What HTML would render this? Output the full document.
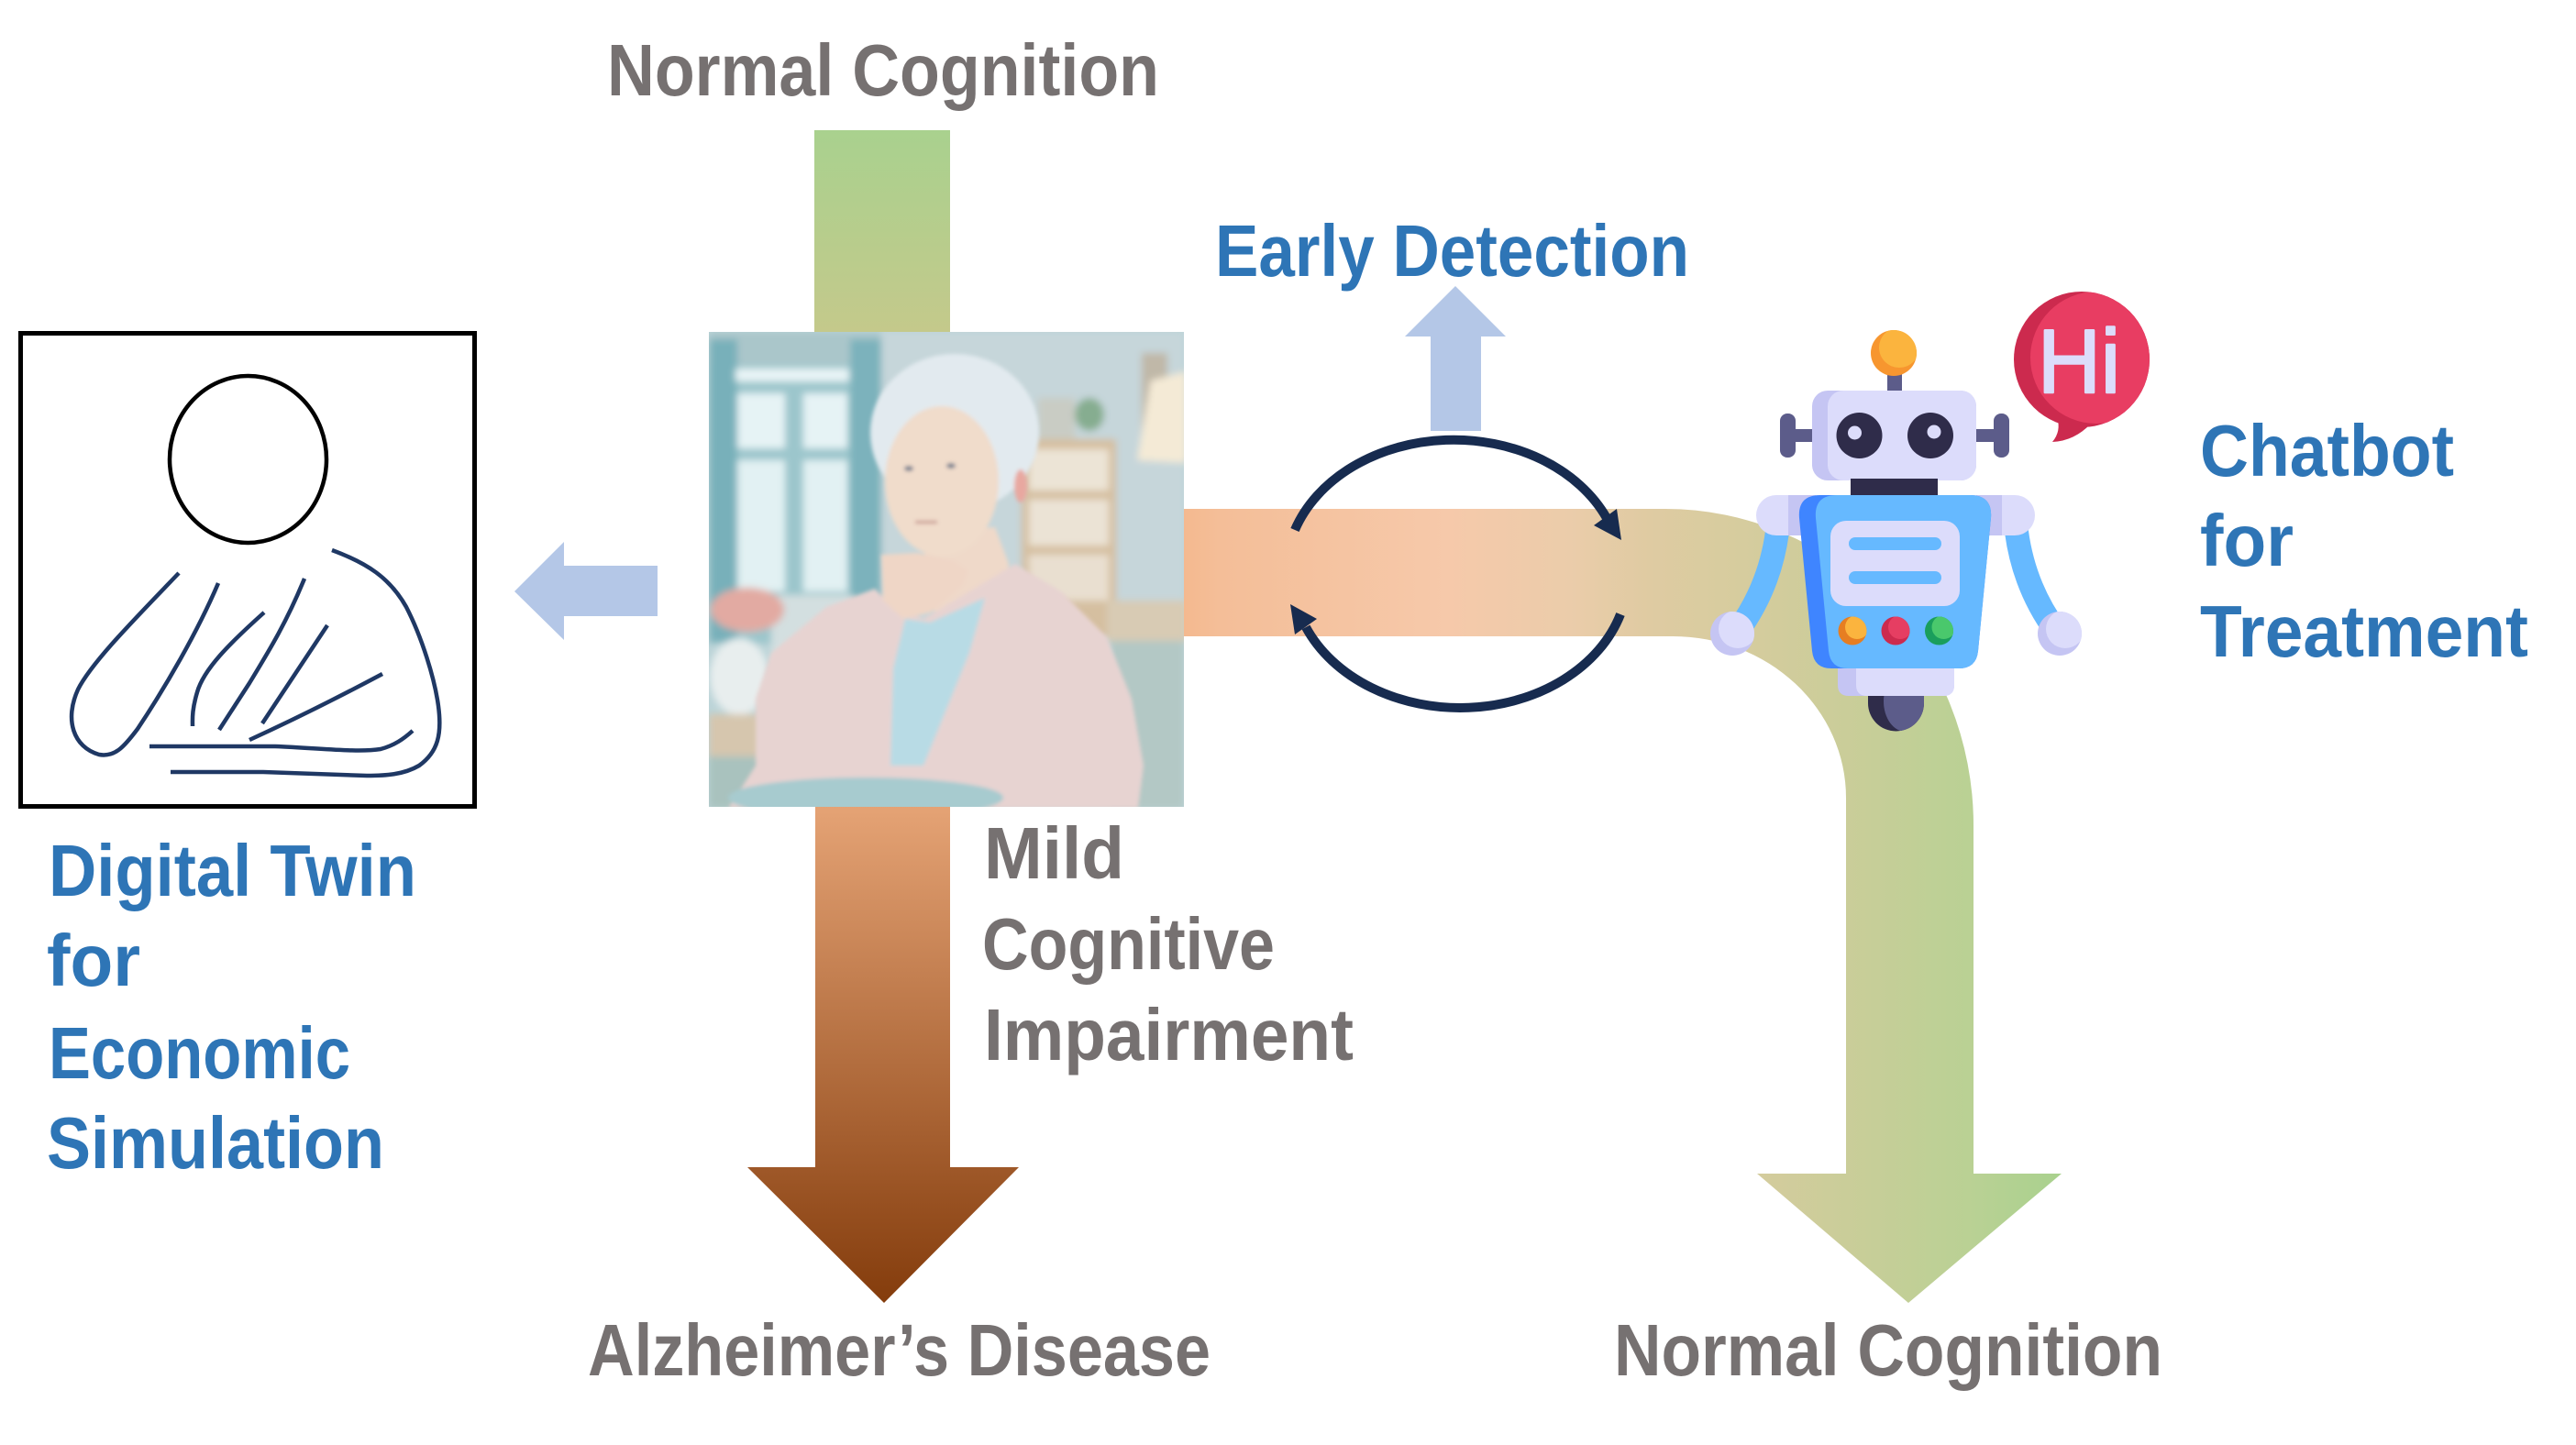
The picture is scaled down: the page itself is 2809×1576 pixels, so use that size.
<!DOCTYPE html>
<html>
<head>
<meta charset="utf-8">
<style>
html,body{margin:0;padding:0;background:#fff;}
svg{display:block;}
text{font-family:"Liberation Sans","DejaVu Sans",sans-serif;font-weight:bold;}
</style>
</head>
<body>
<svg width="2809" height="1576" viewBox="0 0 2809 1576" xmlns="http://www.w3.org/2000/svg">
<defs>
  <linearGradient id="gTop" x1="0" y1="142" x2="0" y2="362" gradientUnits="userSpaceOnUse">
    <stop offset="0" stop-color="#a9d18e"/>
    <stop offset="1" stop-color="#c4c98b"/>
  </linearGradient>
  <linearGradient id="gBrown" x1="0" y1="879" x2="0" y2="1421" gradientUnits="userSpaceOnUse">
    <stop offset="0" stop-color="#e5a375"/>
    <stop offset="1" stop-color="#843c0c"/>
  </linearGradient>
  <linearGradient id="gBand" x1="1291" y1="0" x2="2248" y2="0" gradientUnits="userSpaceOnUse">
    <stop offset="0" stop-color="#f4b98f"/>
    <stop offset="0.04" stop-color="#f4be98"/>
    <stop offset="0.30" stop-color="#f6c9aa"/>
    <stop offset="0.44" stop-color="#ebccaa"/>
    <stop offset="0.53" stop-color="#dfcba2"/>
    <stop offset="0.636" stop-color="#d6cc9e"/>
    <stop offset="0.754" stop-color="#cacd99"/>
    <stop offset="0.90" stop-color="#b9d194"/>
    <stop offset="1" stop-color="#a9d18e"/>
  </linearGradient>
  <clipPath id="photoClip"><rect x="773" y="362" width="518" height="518"/></clipPath>
  <filter id="b4" x="-10%" y="-10%" width="120%" height="120%"><feGaussianBlur stdDeviation="4"/></filter>
  <filter id="b2" x="-10%" y="-10%" width="120%" height="120%"><feGaussianBlur stdDeviation="2"/></filter>
  <clipPath id="cAnt"><circle cx="2065" cy="385" r="25"/></clipPath>
  <clipPath id="cHL"><circle cx="1889" cy="691" r="24"/></clipPath>
  <clipPath id="cHR"><circle cx="2246" cy="691" r="24"/></clipPath>
  <clipPath id="cD1"><circle cx="2020" cy="688" r="15.5"/></clipPath>
  <clipPath id="cD2"><circle cx="2067" cy="688" r="15.5"/></clipPath>
  <clipPath id="cD3"><circle cx="2114.5" cy="688" r="15.5"/></clipPath>
  <clipPath id="cBub"><circle cx="2270" cy="392" r="74"/></clipPath>
  <clipPath id="cWheel"><path d="M2037,759 L2098,759 L2098,767 A30.5,30.5 0 0 1 2037,767 Z"/></clipPath>
</defs>

<rect x="0" y="0" width="2809" height="1576" fill="#ffffff"/>

<!-- Top text -->
<text x="662" y="104" font-size="80" fill="#767171" textLength="602" lengthAdjust="spacingAndGlyphs">Normal Cognition</text>

<!-- Green top shaft -->
<rect x="888" y="142" width="148" height="220" fill="url(#gTop)"/>

<!-- Brown arrow -->
<path d="M889,879 L1036,879 L1036,1273 L1111,1273 L964,1421 L815,1273 L889,1273 Z" fill="url(#gBrown)"/>

<!-- Band curving into green arrow -->
<path d="M1291,555 L1816,555 A336,345 0 0 1 2152,900 L2152,1280 L2248,1280 L2081,1421 L1916,1280 L2013,1280 L2013,870 A189,176 0 0 0 1824,694 L1291,694 Z" fill="url(#gBand)"/>

<!-- Digital twin box -->
<rect x="22.5" y="363.5" width="495" height="516" fill="#ffffff" stroke="#000000" stroke-width="5"/>
<ellipse cx="270.5" cy="501" rx="85.5" ry="91" fill="none" stroke="#000000" stroke-width="4.5"/>
<g fill="none" stroke="#1f3864" stroke-width="4.5" stroke-linecap="butt" stroke-linejoin="round">
  <path d="M195,625 C150,672 100,722 85,752 C70,785 80,815 108,823 C125,826 135,815 150,795 C180,750 215,690 238,636"/>
  <path d="M288,668 C250,702 222,730 215,755 C209,775 210,785 210,792"/>
  <path d="M332,631 C312,680 292,712 272,745 L239,796"/>
  <path d="M357,682 L286,789"/>
  <path d="M417,735 C370,760 320,785 272,807"/>
  <path d="M163,814 L300,814 C350,816 390,821 415,817 C430,813 440,806 450,797"/>
  <path d="M362,600 C400,614 425,630 443,662 C460,695 474,740 478,770 C482,800 478,820 457,835 C440,845 420,846 400,846 L287,842 L186,842"/>
</g>

<!-- Left arrow -->
<polygon points="561,645 615,591 615,617 717,617 717,672 615,672 615,698" fill="#b4c7e7"/>

<!-- Photo approximation -->
<g clip-path="url(#photoClip)">
  <rect x="773" y="362" width="518" height="518" fill="#bcd4d8"/>
  <g filter="url(#b4)">
    <rect x="773" y="362" width="200" height="340" fill="#9cc6cc"/>
    <rect x="773" y="362" width="518" height="36" fill="#aac6ca"/>
    <rect x="774" y="370" width="30" height="330" fill="#78b0ba"/>
    <rect x="927" y="370" width="34" height="330" fill="#7cb2bc"/>
    <rect x="802" y="402" width="124" height="14" fill="#e8f4f6"/>
    <rect x="804" y="429" width="52" height="60" fill="#e6f3f5"/>
    <rect x="876" y="429" width="48" height="60" fill="#e6f3f5"/>
    <rect x="804" y="502" width="52" height="143" fill="#e2f1f3"/>
    <rect x="876" y="502" width="48" height="143" fill="#e2f1f3"/>
    <rect x="961" y="362" width="330" height="340" fill="#c6d6da"/>
    <rect x="1114" y="479" width="103" height="216" fill="#d5bfa0"/>
    <rect x="1122" y="490" width="87" height="45" fill="#ece4d6"/>
    <rect x="1122" y="545" width="87" height="50" fill="#ebe3d5"/>
    <rect x="1122" y="605" width="87" height="50" fill="#e9dfd0"/>
    <rect x="1132" y="434" width="40" height="45" fill="#c9ccc4"/>
    <ellipse cx="1188" cy="452" rx="16" ry="18" fill="#86ad90"/>
    <rect x="1245" y="385" width="28" height="100" fill="#c0b8a8"/>
    <path d="M1255,415 L1294,405 L1294,505 L1240,502 Z" fill="#f4ead6"/>
    <rect x="1207" y="655" width="87" height="45" fill="#d8cbb4"/>
    <rect x="841" y="649" width="90" height="80" fill="#d3dfe0"/>
    <ellipse cx="815" cy="665" rx="40" ry="24" fill="#e2aaa2"/>
    <ellipse cx="806" cy="738" rx="32" ry="42" fill="#e8eeee"/>
    <rect x="773" y="779" width="60" height="50" fill="#d6c6ae"/>
    <rect x="773" y="825" width="70" height="57" fill="#a9c2be"/>
    <rect x="1211" y="699" width="80" height="183" fill="#b3c8c5"/>
  </g>
  <g filter="url(#b2)">
    <ellipse cx="1041" cy="472" rx="92" ry="86" fill="#e2eaef"/>
    <path d="M1010,580 L1085,575 L1100,615 L1095,660 L1035,680 L1005,655 Z" fill="#efd9c9"/>
    <polygon points="824,762 841,712 901,662 954,642 974,662 1007,675 1074,635 1107,615 1157,645 1207,695 1234,762 1247,835 1241,882 794,882 824,835" fill="#e7d3d1"/>
    <polygon points="987,675 1014,679 1074,652 1057,712 1007,835 971,835 974,729" fill="#b8dbe5"/>
    <ellipse cx="1027" cy="525" rx="62" ry="82" fill="#f0dccb"/>
    <ellipse cx="1113" cy="530" rx="7" ry="18" fill="#e8a8a0"/>
    <polygon points="961,605 1000,603 1040,612 1055,622 1050,638 1015,668 985,675 963,655" fill="#efd6c6"/>
    <ellipse cx="944" cy="870" rx="150" ry="22" fill="#a7cbcf"/>
    <ellipse cx="991" cy="511" rx="5" ry="3" fill="#7a8090"/>
    <ellipse cx="1037" cy="508" rx="5" ry="3" fill="#7a8090"/>
    <rect x="998" y="568" width="24" height="3" fill="#c89890"/>
  </g>
</g>

<!-- Up arrow -->
<polygon points="1587,312 1642,367 1615,367 1615,470 1560,470 1560,367 1532,367" fill="#b4c7e7"/>

<!-- Circular arrows -->
<path d="M1412,578 A183,145 0 0 1 1752,565" fill="none" stroke="#172b4f" stroke-width="10"/>
<polygon points="1738,573 1768,589 1763,555" fill="#172b4f"/>
<path d="M1767,670 A183,145 0 0 1 1424,684" fill="none" stroke="#172b4f" stroke-width="10"/>
<polygon points="1407,659 1412,692 1436,675" fill="#172b4f"/>

<!-- Robot -->
<g>
  <!-- arms -->
  <path d="M1938,580 Q1930,640 1895,688" fill="none" stroke="#66b9ff" stroke-width="26" stroke-linecap="round"/>
  <path d="M2199,580 Q2207,640 2242,688" fill="none" stroke="#66b9ff" stroke-width="26" stroke-linecap="round"/>
  <!-- hands -->
  <circle cx="1889" cy="691" r="24" fill="#c5c5f3"/>
  <circle cx="1895" cy="686" r="21" fill="#dcdcfb" clip-path="url(#cHL)"/>
  <circle cx="2246" cy="691" r="24" fill="#c5c5f3"/>
  <circle cx="2252" cy="686" r="21" fill="#dcdcfb" clip-path="url(#cHR)"/>
  <!-- antenna -->
  <rect x="2058" y="405" width="16" height="24" fill="#5c5c8a"/>
  <circle cx="2065" cy="385" r="25" fill="#f7962f"/>
  <circle cx="2071" cy="379" r="22" fill="#fbb43e" clip-path="url(#cAnt)"/>
  <!-- ears -->
  <rect x="1941" y="451" width="17" height="48" rx="8" fill="#5c5c8a"/>
  <rect x="1956" y="468" width="22" height="14" fill="#5c5c8a"/>
  <rect x="2153" y="468" width="22" height="14" fill="#5c5c8a"/>
  <rect x="2174" y="451" width="17" height="48" rx="8" fill="#5c5c8a"/>
  <!-- head -->
  <rect x="1976" y="426" width="179" height="98" rx="17" fill="#c5c5f3"/>
  <rect x="1993" y="426" width="162" height="98" rx="17" fill="#dcdcfb"/>
  <circle cx="2027.5" cy="475" r="25" fill="#2f2c4a"/>
  <circle cx="2022.5" cy="472" r="7.5" fill="#dcdcfb"/>
  <circle cx="2105" cy="475" r="25" fill="#2f2c4a"/>
  <circle cx="2109" cy="471" r="7.5" fill="#dcdcfb"/>
  <!-- neck -->
  <rect x="2018" y="522" width="95" height="20" fill="#2f2c4a"/>
  <!-- shoulders -->
  <rect x="1915" y="540" width="304" height="44" rx="22" fill="#dcdcfb"/>
  <rect x="1950" y="540" width="30" height="44" fill="#c5c5f3"/>
  <rect x="2155" y="540" width="28" height="44" fill="#c5c5f3"/>
  <!-- body -->
  <path d="M1985,540 L2148,540 Q2173,540 2171,565 L2157,710 Q2155,729 2136,729 L1997,729 Q1978,729 1976,710 L1962,565 Q1960,540 1985,540 Z" fill="#3f85ff"/>
  <path d="M2003,540 L2148,540 Q2173,540 2171,565 L2157,710 Q2155,729 2136,729 L2015,729 Q1996,729 1994,710 L1980,565 Q1978,540 2003,540 Z" fill="#66b9ff"/>
  <rect x="1996" y="568" width="141" height="93" rx="17" fill="#dcdcfb"/>
  <rect x="2016" y="586" width="101" height="14" rx="7" fill="#66b9ff"/>
  <rect x="2016" y="623" width="101" height="14" rx="7" fill="#66b9ff"/>
  <!-- dots -->
  <circle cx="2020" cy="688" r="15.5" fill="#e67e22"/>
  <circle cx="2025" cy="684" r="13" fill="#fbb43e" clip-path="url(#cD1)"/>
  <circle cx="2067" cy="688" r="15.5" fill="#cc2a4e"/>
  <circle cx="2072" cy="684" r="13" fill="#e63e62" clip-path="url(#cD2)"/>
  <circle cx="2114.5" cy="688" r="15.5" fill="#1a9e5c"/>
  <circle cx="2119.5" cy="684" r="13" fill="#4ac86c" clip-path="url(#cD3)"/>
  <!-- bottom -->
  <path d="M2004,729 L2131,729 L2131,747 Q2131,759 2119,759 L2016,759 Q2004,759 2004,747 Z" fill="#c5c5f3"/>
  <path d="M2024,729 L2131,729 L2131,747 Q2131,759 2119,759 L2036,759 Q2024,759 2024,747 Z" fill="#dcdcfb"/>
  <!-- wheel -->
  <path d="M2037,759 L2098,759 L2098,767 A30.5,30.5 0 0 1 2037,767 Z" fill="#2f2c4a"/>
  <ellipse cx="2078" cy="765" rx="24" ry="33" fill="#5c5c8a" clip-path="url(#cWheel)"/>
</g>

<!-- Hi bubble -->
<path d="M2243,455 Q2248,470 2238,482 Q2262,481 2280,462 Z" fill="#cc2a4e"/>
<circle cx="2270" cy="392" r="74" fill="#cc2a4e"/>
<circle cx="2286" cy="390" r="72" fill="#e83d62" clip-path="url(#cBub)"/>
<text x="2222" y="428" font-size="98" fill="#dcdcfb" stroke="#dcdcfb" stroke-width="2.5" stroke-linejoin="round" style="font-weight:normal" textLength="90" lengthAdjust="spacingAndGlyphs">Hi</text>

<!-- Labels -->
<text x="1325" y="301" font-size="80" fill="#2e75b6" textLength="517" lengthAdjust="spacingAndGlyphs">Early Detection</text>

<text x="2399" y="519" font-size="80" fill="#2e75b6" textLength="277" lengthAdjust="spacingAndGlyphs">Chatbot</text>
<text x="2399" y="617" font-size="80" fill="#2e75b6" textLength="102" lengthAdjust="spacingAndGlyphs">for</text>
<text x="2399" y="716" font-size="80" fill="#2e75b6" textLength="358" lengthAdjust="spacingAndGlyphs">Treatment</text>

<text x="53" y="977" font-size="80" fill="#2e75b6" textLength="401" lengthAdjust="spacingAndGlyphs">Digital Twin</text>
<text x="51" y="1075" font-size="80" fill="#2e75b6" textLength="102" lengthAdjust="spacingAndGlyphs">for</text>
<text x="53" y="1176" font-size="80" fill="#2e75b6" textLength="329" lengthAdjust="spacingAndGlyphs">Economic</text>
<text x="51" y="1274" font-size="80" fill="#2e75b6" textLength="368" lengthAdjust="spacingAndGlyphs">Simulation</text>

<text x="1073" y="958" font-size="80" fill="#767171" textLength="153" lengthAdjust="spacingAndGlyphs">Mild</text>
<text x="1071" y="1057" font-size="80" fill="#767171" textLength="319" lengthAdjust="spacingAndGlyphs">Cognitive</text>
<text x="1073" y="1156" font-size="80" fill="#767171" textLength="403" lengthAdjust="spacingAndGlyphs">Impairment</text>

<text x="641" y="1500" font-size="80" fill="#767171" textLength="679" lengthAdjust="spacingAndGlyphs">Alzheimer’s Disease</text>
<text x="1760" y="1500" font-size="80" fill="#767171" textLength="598" lengthAdjust="spacingAndGlyphs">Normal Cognition</text>
</svg>
</body>
</html>
